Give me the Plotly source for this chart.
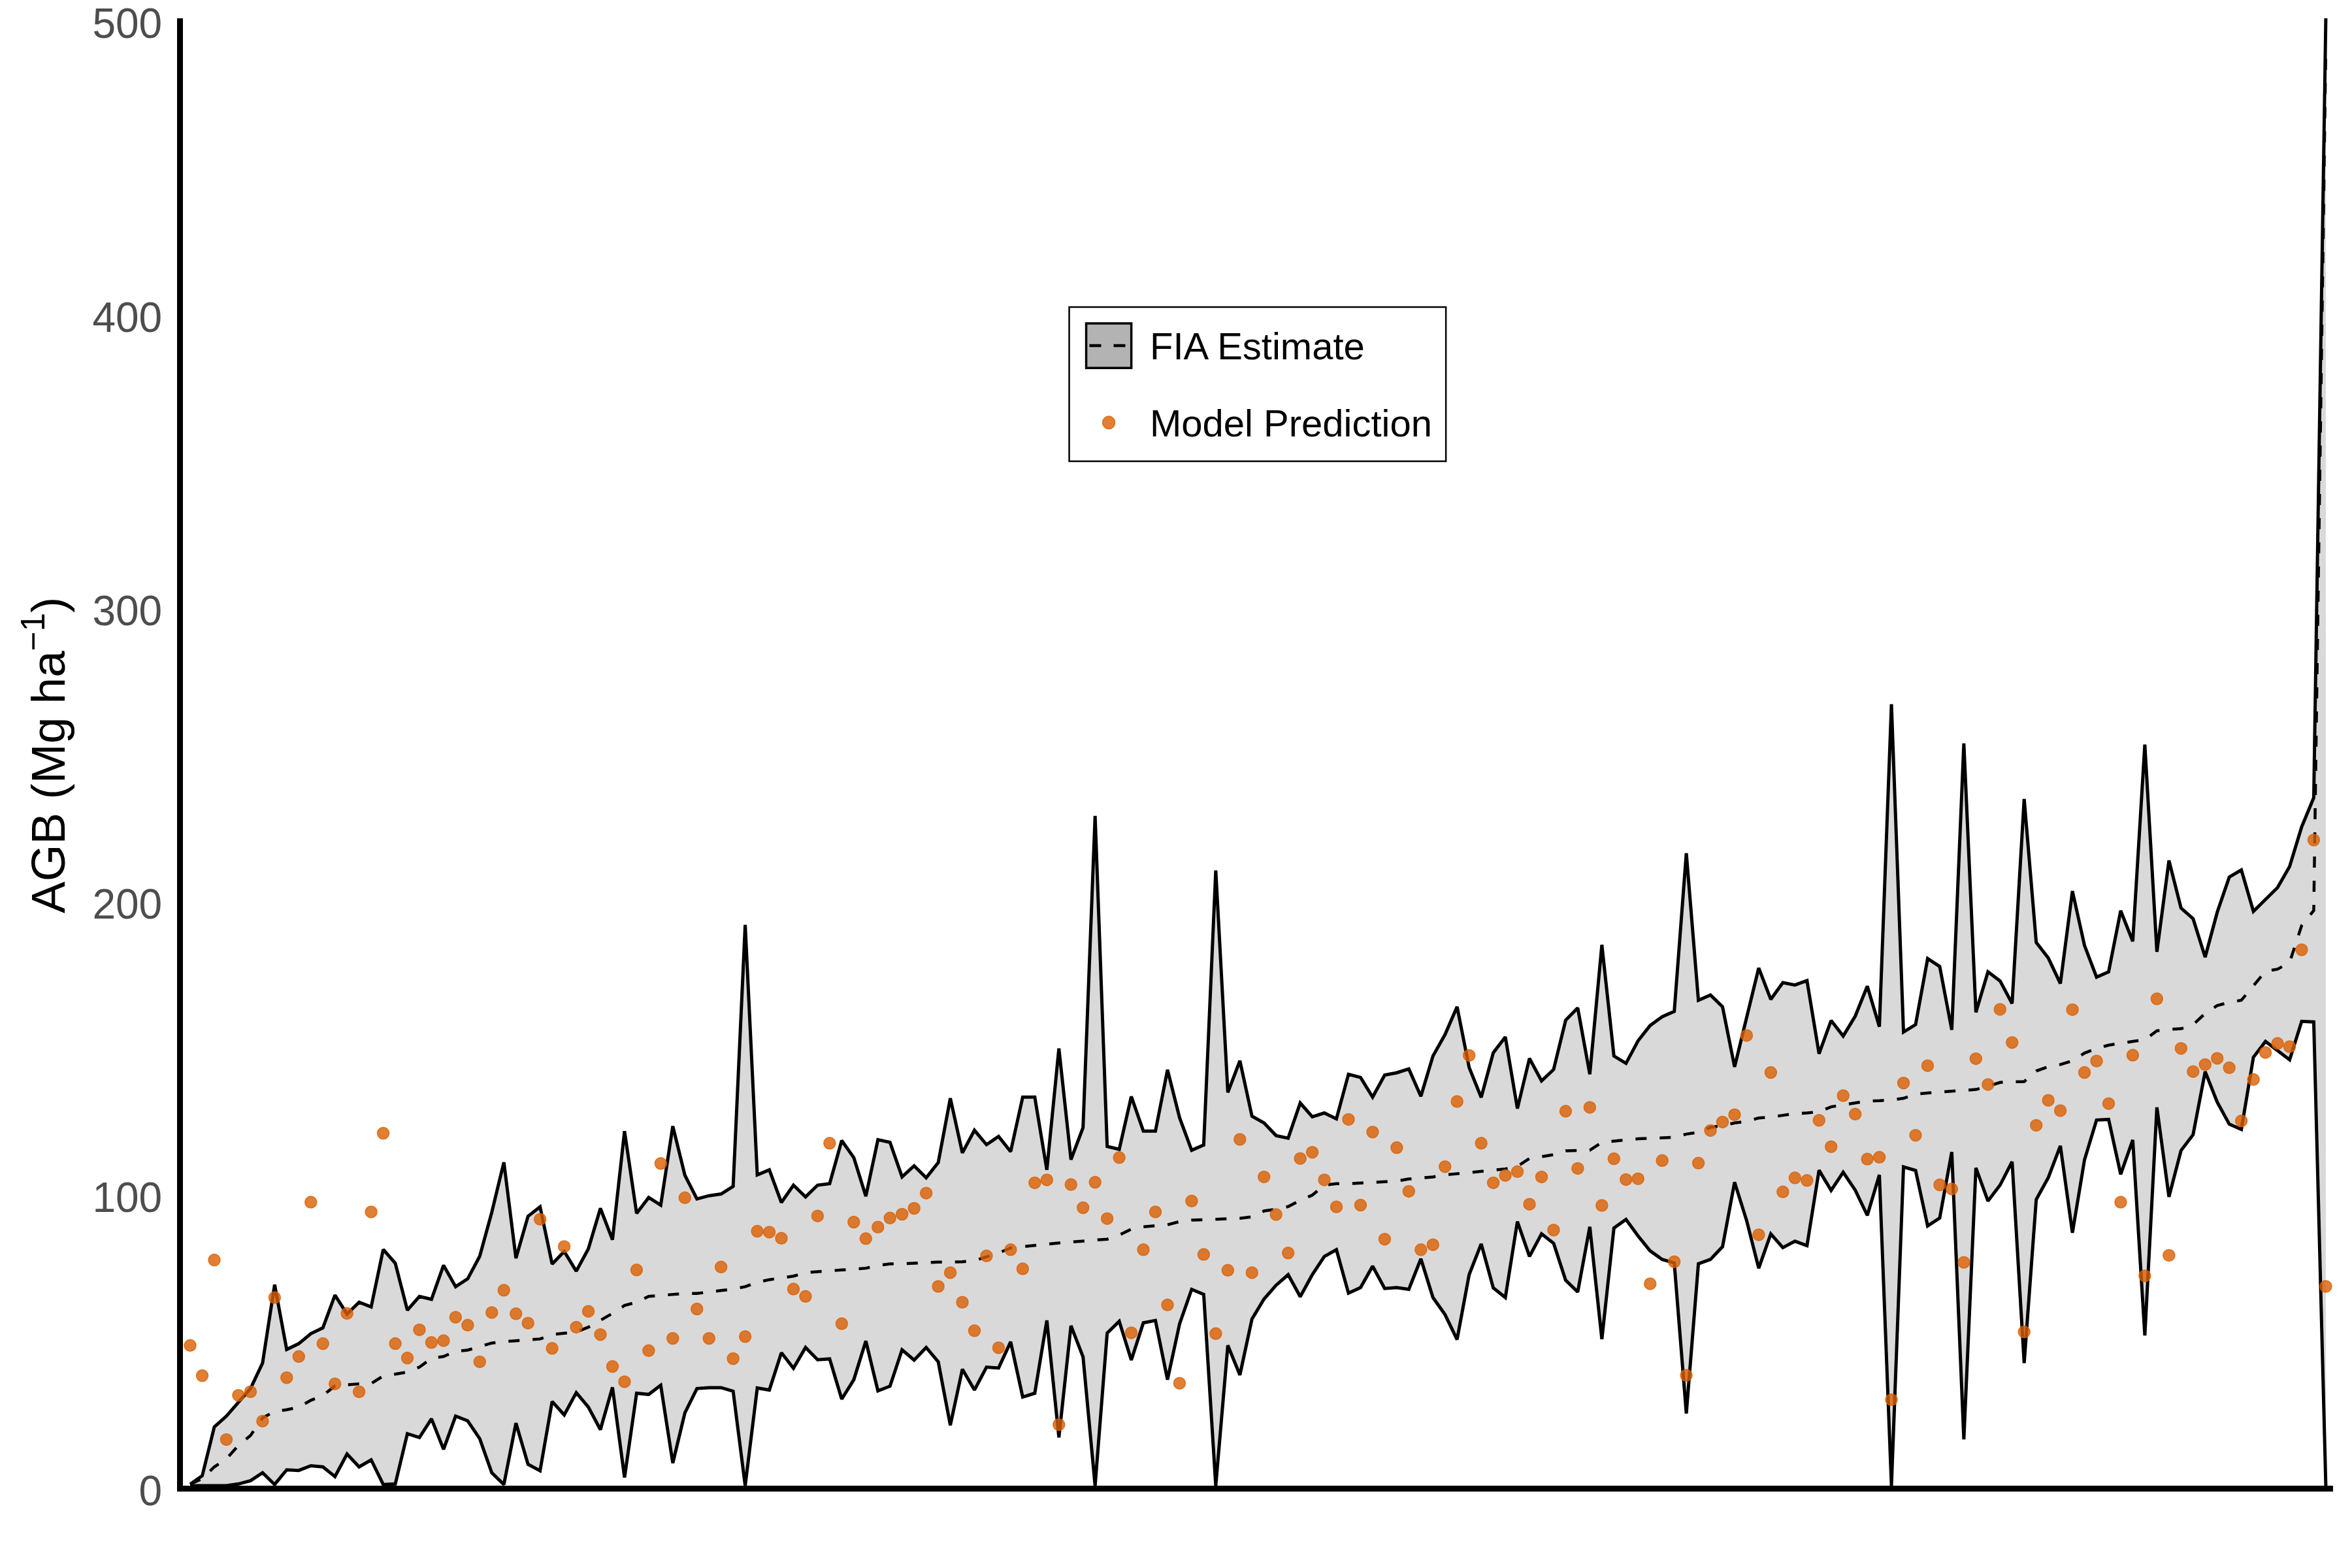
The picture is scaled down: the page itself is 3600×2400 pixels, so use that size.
import plotly.graph_objects as go

# FIA plot-level estimate: upper bound, lower bound and mean (Mg/ha), plots sorted by mean
fia_upper = [
    0.5, 3.4, 20.0, 23.7, 28.4, 33.1, 41.8, 68.5, 46.4, 48.4,
    51.8, 53.8, 64.9, 58.5, 62.5, 60.9, 80.5, 75.8, 59.8, 64.5,
    63.5, 75.1, 67.8, 70.5, 78.2, 93.2, 110.2, 77.5, 91.8, 95.0,
    75.5, 79.8, 73.1, 80.7, 94.5, 83.8, 120.8, 92.8, 98.2, 95.6,
    122.5, 105.8, 97.7, 98.8, 99.4, 102.0, 191.1, 105.9, 107.6, 96.5,
    102.4, 98.4, 102.4, 102.9, 117.6, 111.8, 98.6, 117.9, 117.0, 105.2,
    109.0, 104.9, 110.1, 132.0, 113.4, 121.1, 116.2, 119.0, 113.8, 132.4,
    132.4, 107.6, 149.0, 111.1, 122.0, 228.2, 115.6, 114.6, 132.6, 120.8,
    120.8, 141.7, 125.4, 114.3, 116.1, 209.6, 134.0, 144.8, 125.9, 123.6,
    119.3, 118.4, 130.4, 125.7, 127.0, 125.0, 140.2, 139.1, 132.4, 139.9,
    140.7, 142.0, 132.7, 146.4, 153.7, 163.2, 142.5, 132.3, 147.5, 152.9,
    128.5, 145.6, 137.9, 141.8, 158.6, 162.8, 140.2, 184.3, 146.4, 143.9,
    151.6, 156.8, 159.8, 161.6, 215.5, 165.4, 167.2, 163.2, 142.7, 159.5,
    176.4, 165.7, 171.4, 170.6, 172.1, 147.2, 158.5, 153.2, 160.0, 170.2,
    156.4, 266.3, 154.6, 157.1, 179.6, 176.9, 155.3, 252.9, 161.3, 175.1,
    172.0, 164.3, 234.0, 185.1, 179.8, 171.1, 202.6, 184.1, 173.3, 175.1,
    195.9, 185.5, 252.5, 181.9, 213.0, 196.8, 193.2, 180.1, 195.4, 207.4,
    209.8, 195.7, 199.9, 203.8, 211.0, 224.5, 234.4, 500.0,
]
fia_lower = [
    0.0, 0.0, 0.0, 0.0, 0.6, 1.7, 4.4, 0.4, 5.4, 5.2,
    6.8, 6.4, 3.1, 10.8, 6.4, 8.8, 0.4, 0.6, 17.7, 16.4,
    22.8, 12.4, 23.7, 22.1, 16.0, 4.4, 0.4, 21.3, 7.3, 5.1,
    28.7, 24.1, 31.7, 26.8, 19.1, 33.5, 2.8, 31.5, 31.1, 34.2,
    7.7, 24.8, 33.1, 33.4, 33.4, 32.2, 0.0, 33.3, 32.6, 45.3,
    40.0, 47.1, 42.9, 43.2, 29.5, 36.1, 49.3, 32.3, 33.9, 46.3,
    42.8, 47.1, 42.2, 20.6, 39.7, 32.6, 40.4, 40.1, 49.0, 30.2,
    31.5, 56.3, 16.4, 54.5, 43.9, 0.0, 52.0, 56.0, 42.8, 55.5,
    56.3, 36.1, 55.1, 66.9, 65.2, 0.0, 47.8, 37.7, 56.8, 63.6,
    68.3, 71.9, 64.4, 71.9, 78.1, 80.4, 65.6, 67.5, 74.8, 67.2,
    67.5, 66.9, 77.3, 64.1, 58.3, 49.8, 71.9, 82.4, 67.4, 64.1,
    90.0, 78.1, 85.8, 82.6, 70.0, 66.0, 88.2, 49.9, 87.8, 90.7,
    85.1, 80.0, 77.1, 75.9, 24.6, 75.6, 77.1, 81.4, 103.4, 90.3,
    74.1, 85.8, 81.1, 83.3, 81.8, 107.5, 100.6, 106.8, 100.7, 92.1,
    105.9, 0.0, 108.6, 107.4, 88.5, 91.2, 113.7, 15.8, 108.3, 97.0,
    102.4, 110.4, 41.8, 97.5, 105.0, 115.8, 86.2, 111.0, 124.6, 124.8,
    106.1, 117.8, 51.2, 128.9, 98.4, 114.2, 119.6, 141.1, 130.7, 123.2,
    121.4, 146.0, 151.4, 148.1, 145.1, 158.2, 158.0, 0.0,
]
fia_mean = [
    0.5, 2.4, 6.4, 9.1, 13.7, 17.1, 23.1, 25.3, 25.9, 26.7,
    29.1, 30.7, 34.0, 34.4, 34.7, 34.8, 37.4, 38.0, 38.7, 40.4,
    43.4, 44.0, 45.8, 46.2, 47.4, 48.6, 49.1, 49.4, 49.8, 50.0,
    51.5, 52.0, 52.4, 54.0, 56.4, 58.7, 61.4, 62.5, 64.5, 64.9,
    65.1, 65.5, 65.5, 66.1, 66.5, 67.0, 67.8, 69.3, 70.2, 70.8,
    71.4, 72.6, 72.8, 73.2, 73.5, 73.9, 74.1, 75.0, 75.6, 75.6,
    75.9, 76.0, 76.2, 76.2, 76.3, 76.7, 77.9, 79.3, 81.0, 81.5,
    81.9, 82.3, 82.7, 83.0, 83.2, 83.5, 84.0, 85.4, 87.4, 88.2,
    88.6, 88.9, 90.0, 90.5, 90.6, 90.8, 90.8, 91.1, 91.6, 93.6,
    94.2, 95.1, 97.2, 99.0, 102.4, 102.9, 102.9, 103.1, 103.4, 103.5,
    103.8, 104.5, 104.9, 105.2, 105.9, 106.3, 106.8, 107.1, 107.4, 107.9,
    108.8, 111.5, 112.1, 112.8, 114.1, 114.2, 114.3, 117.0, 117.5, 117.8,
    118.2, 118.4, 118.5, 118.7, 119.8, 120.4, 122.1, 122.7, 123.6, 124.1,
    125.3, 125.6, 126.2, 126.8, 127.0, 127.4, 129.1, 129.8, 130.5, 131.1,
    131.2, 131.4, 132.0, 133.4, 133.8, 134.1, 134.3, 134.5, 135.0, 136.1,
    137.4, 137.6, 137.7, 141.3, 142.8, 143.5, 144.8, 147.4, 149.0, 150.1,
    150.8, 151.4, 151.9, 155.0, 155.5, 155.7, 157.1, 160.9, 163.6, 164.7,
    165.4, 170.2, 175.3, 176.0, 178.3, 190.9, 196.0, 490.0,
]
# model prediction for the same plots
model_pred = [
    47.8, 37.5, 76.9, 15.7, 30.8, 32.0, 22.0, 64.1, 36.8, 44.0,
    96.6, 48.4, 34.7, 58.7, 32.0, 93.3, 120.1, 48.4, 43.5, 53.1,
    48.8, 49.4, 57.4, 54.7, 42.2, 59.0, 66.6, 58.6, 55.4, 90.8,
    46.8, 81.5, 54.0, 59.4, 51.5, 40.6, 35.4, 73.5, 46.0, 109.8,
    50.2, 98.1, 60.2, 50.2, 74.5, 43.3, 50.8, 86.7, 86.4, 84.3,
    67.0, 64.5, 91.9, 116.7, 55.2, 89.8, 84.2, 88.1, 91.2, 92.5,
    94.5, 99.7, 67.9, 72.6, 62.5, 52.8, 78.3, 47.0, 80.4, 73.9,
    103.2, 104.2, 20.8, 102.6, 94.7, 103.4, 91.0, 111.8, 52.1, 80.4,
    93.3, 61.6, 34.9, 97.0, 78.8, 51.8, 73.4, 118.0, 72.6, 105.2,
    92.4, 79.3, 111.5, 113.6, 104.2, 95.0, 124.8, 95.6, 120.5, 84.0,
    115.2, 100.3, 80.4, 82.1, 108.7, 130.9, 146.6, 116.7, 103.2, 105.7,
    107.0, 95.9, 105.2, 87.1, 127.6, 108.1, 128.9, 95.5, 111.4, 104.3,
    104.6, 68.8, 110.8, 76.3, 37.6, 109.9, 121.0, 123.9, 126.4, 153.4,
    85.5, 140.8, 100.1, 104.9, 104.0, 124.5, 115.5, 132.9, 126.6, 111.3,
    111.9, 29.3, 137.2, 119.4, 143.1, 102.5, 101.1, 76.1, 145.5, 136.7,
    162.3, 151.0, 52.4, 122.8, 131.3, 127.8, 162.2, 140.8, 144.7, 130.2,
    96.6, 146.7, 71.5, 165.9, 78.5, 149.0, 141.1, 143.5, 145.6, 142.4,
    124.3, 138.4, 147.6, 150.7, 149.6, 182.6, 220.0, 67.9,
]
plot_index = list(range(len(fia_mean)))
y_ticks = [0, 100, 200, 300, 400, 500]

FONT = "Liberation Sans, Arial, sans-serif"
ORANGE = "rgba(217,95,2,0.8)"

fig = go.Figure()

# grey band between lower and upper bound
fig.add_trace(go.Scatter(x=plot_index, y=fia_lower, mode="lines",
                         line=dict(width=0), hoverinfo="skip"))
fig.add_trace(go.Scatter(x=plot_index, y=fia_upper, mode="lines", fill="tonexty",
                         fillcolor="#D9D9D9", line=dict(width=0), hoverinfo="skip"))

for bound in (fia_lower, fia_upper):
    fig.add_trace(go.Scatter(x=plot_index, y=bound, mode="lines",
                             line=dict(color="black", width=5)))

fig.add_trace(go.Scatter(x=plot_index, y=fia_mean, mode="lines",
                         line=dict(color="black", width=4.5, dash="17px,20px")))

fig.add_trace(go.Scatter(x=plot_index, y=model_pred, mode="markers",
                         marker=dict(size=18, color=ORANGE,
                                     line=dict(color=ORANGE, width=1.5))))

# hand-drawn legend box (paper coords)
fig.add_shape(type="rect", xref="paper", yref="paper",
              x0=0.4122, x1=0.5874, y0=0.6981, y1=0.8032,
              line=dict(color="black", width=2.5), fillcolor="white")
fig.add_shape(type="rect", xref="paper", yref="paper",
              x0=0.4201, x1=0.4411, y0=0.7617, y1=0.7921,
              line=dict(color="black", width=3.5), fillcolor="#B3B3B3")
fig.add_shape(type="line", xref="paper", yref="paper",
              x0=0.4216, x1=0.4384, y0=0.7769, y1=0.7769,
              line=dict(color="black", width=4.5, dash="18px,19px"))
fig.add_shape(type="circle", xref="paper", yref="paper",
              x0=0.4306 - 0.0029, x1=0.4306 + 0.0029,
              y0=0.7245 - 0.0043, y1=0.7245 + 0.0043,
              line=dict(color=ORANGE, width=1.5), fillcolor=ORANGE)

for label, ypos in (("FIA Estimate", 0.7769), ("Model Prediction", 0.7242)):
    fig.add_annotation(text=label, xref="paper", yref="paper", x=0.4492, y=ypos,
                       xanchor="left", yanchor="middle", showarrow=False,
                       font=dict(family=FONT, size=58, color="black"))

# y-axis title
fig.add_annotation(text="AGB (Mg ha<sup>−1</sup>)", xref="paper", yref="paper",
                   x=-0.0643, y=0.498, xanchor="center", yanchor="middle",
                   textangle=-90, showarrow=False,
                   font=dict(family=FONT, size=73, color="black"))

# the page body adds 8px on the top and left, so the margins make up for it
fig.update_layout(
    width=3600,
    height=2400,
    showlegend=False,
    plot_bgcolor="white",
    paper_bgcolor="white",
    margin=dict(l=272, r=37, t=20, b=134, autoexpand=False),
    font=dict(family=FONT),
    xaxis=dict(range=[-0.6, 177.6], showline=True, linecolor="black", linewidth=9,
               showgrid=False, zeroline=False, showticklabels=False, ticks="",
               automargin=False),
    yaxis=dict(range=[0, 500], tickvals=y_ticks, showline=True, linecolor="black",
               linewidth=9, showgrid=False, zeroline=False, ticks="outside",
               ticklen=10, tickcolor="rgba(0,0,0,0)", ticklabeloverflow="allow",
               ticklabelshift=8, automargin=False,
               tickfont=dict(family=FONT, size=64, color="#4D4D4D")),
)

fig.write_html("out.html")
